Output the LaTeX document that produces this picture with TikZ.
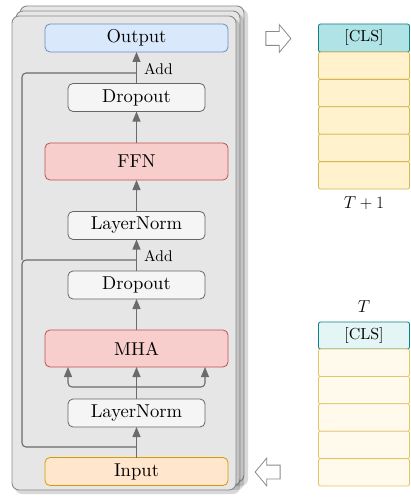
\documentclass[tikz,border=0pt]{standalone}
\usepackage{fontspec}
\setmainfont{lmroman10-regular.otf}[BoldFont=lmroman10-bold.otf, ItalicFont=lmroman10-italic.otf]
\usetikzlibrary{arrows.meta,positioning,shapes.arrows}
\definecolor{layerfill}{HTML}{E6E6E6}
\definecolor{layerdraw}{HTML}{8A8A8A}
\definecolor{conncol}{HTML}{6B6B6B}
\definecolor{outfill}{HTML}{DAE8FC}\definecolor{outdraw}{HTML}{6C8EBF}
\definecolor{infill}{HTML}{FFE6CC}\definecolor{indraw}{HTML}{D79B00}
\definecolor{redfill}{HTML}{F8CECC}\definecolor{reddraw}{HTML}{B85450}
\definecolor{grayfill}{HTML}{F5F5F5}\definecolor{graydraw}{HTML}{666666}
\definecolor{clsfill}{HTML}{B0E3E6}\definecolor{clsdraw}{HTML}{0E8088}
\definecolor{clsfillL}{HTML}{E4F5F6}
\definecolor{tokfill}{HTML}{FFF2CC}\definecolor{tokdraw}{HTML}{D6B656}
\definecolor{tokfillL}{HTML}{FFFAEC}\definecolor{tokdrawL}{HTML}{E3C46A}
\tikzset{
  blk/.style={rounded corners=5pt, line width=0.8pt, inner sep=0pt, outer sep=0pt,
    font=\fontsize{18.6}{22}\selectfont},
  wideblk/.style={blk, minimum width=183pt, minimum height=28pt},
  tallblk/.style={blk, minimum width=183pt, minimum height=37pt},
  narrowblk/.style={blk, minimum width=137pt, minimum height=28pt, fill=grayfill, draw=graydraw},
  conn/.style={draw=conncol, line width=1.1pt, -{Triangle[width=8pt,length=10pt]}},
  plainconn/.style={draw=conncol, line width=1.1pt},
  addlbl/.style={font=\fontsize{15.5}{18}\selectfont, inner sep=0pt, anchor=west},
  cell/.style={rounded corners=2pt, line width=0.8pt, inner sep=0pt, outer sep=0pt,
    minimum width=91pt, minimum height=27.4pt, font=\fontsize{16}{19}\selectfont},
  layer/.style={rounded corners=7pt, fill=layerfill, draw=layerdraw, line width=0.9pt},
  hollow/.style={single arrow, draw=layerdraw, fill=white, line width=0.8pt,
    minimum height=25pt, inner sep=6.5pt, single arrow head extend=7pt,
    single arrow tip angle=100, single arrow head indent=0pt},
}
\begin{document}
\begin{tikzpicture}[x=1pt,y=-1pt]
\useasboundingbox (0,0) rectangle (411,500);
% stacked layers with shadows
\fill[black, opacity=0.15, rounded corners=7pt] (23,9) rectangle (248,486);
\draw[layer] (20,6) rectangle (244,482);
\fill[black, opacity=0.15, rounded corners=7pt] (19,14) rectangle (244,490);
\draw[layer] (16,11) rectangle (240,486);
\fill[black, opacity=0.15, rounded corners=7pt] (15,19) rectangle (240,494);
\draw[layer] (12,16) rectangle (236,490);

% blocks
\node[wideblk, fill=outfill, draw=outdraw] (out) at (136.5,38) {Output};
\node[narrowblk] (drop1) at (136.5,97.5) {Dropout};
\node[tallblk, fill=redfill, draw=reddraw] (ffn) at (136.5,161.5) {FFN};
\node[narrowblk] (ln2) at (136.5,225.5) {LayerNorm};
\node[narrowblk] (drop2) at (136.5,285) {Dropout};
\node[tallblk, fill=redfill, draw=reddraw] (mha) at (136.5,348.5) {MHA};
\node[narrowblk] (ln1) at (136.5,413) {LayerNorm};
\node[wideblk, fill=infill, draw=indraw] (inp) at (136.5,471.5) {Input};

% junction coordinates
\coordinate (j1) at (136.5,447);
\coordinate (j2) at (136.5,260);
\coordinate (j3) at (136.5,73);
\coordinate (l1) at (22,447);
\coordinate (l2) at (22,260);
\coordinate (l3) at (22,73);
\coordinate (s) at (136.5,387);

% main connectors
\draw[conn] (inp.north) -- (ln1.south);
\draw[conn] (ln1.north) -- (mha.south);
\draw[conn, rounded corners=4pt] (s) -| ([xshift=-68.5pt]mha.south);
\draw[conn, rounded corners=4pt] (s) -| ([xshift=68.5pt]mha.south);
\draw[conn] (mha.north) -- (drop2.south);
\draw[conn] (drop2.north) -- (ln2.south);
\draw[conn] (ln2.north) -- (ffn.south);
\draw[conn] (ffn.north) -- (drop1.south);
\draw[conn] (drop1.north) -- (out.south);

% residual connections
\draw[plainconn, rounded corners=4pt] (j1) -- (l1) -- (l2) -- (j2);
\draw[plainconn, rounded corners=4pt] (l2) -- (l3) -- (j3);

\node[addlbl] (add2) at (144,256) {Add};
\node[addlbl] (add1) at (144,69) {Add};

% hollow arrows
\node[hollow] (harr1) at (275.5,38.5) {};
\node[hollow, shape border rotate=180] (harr2) at (270.5,472) {};

% output tokens (T+1)
\node[cell, fill=clsfill, draw=clsdraw, minimum height=28pt] (oc) at (364,38) {[CLS]};
\node[cell, fill=tokfill, draw=tokdraw, below=0pt of oc] (o1) {};
\node[cell, fill=tokfill, draw=tokdraw, below=0pt of o1] (o2) {};
\node[cell, fill=tokfill, draw=tokdraw, below=0pt of o2] (o3) {};
\node[cell, fill=tokfill, draw=tokdraw, below=0pt of o3] (o4) {};
\node[cell, fill=tokfill, draw=tokdraw, below=0pt of o4] (o5) {};
\node[font=\fontsize{17}{20}\selectfont, inner sep=0pt] (tlab1) at (364,203) {$T+1$};

% input tokens (T)
\node[cell, fill=clsfillL, draw=clsdraw, minimum height=27pt] (ic) at (364,335.5) {[CLS]};
\node[cell, fill=tokfillL, draw=tokdrawL, below=0pt of ic] (i1) {};
\node[cell, fill=tokfillL, draw=tokdrawL, below=0pt of i1] (i2) {};
\node[cell, fill=tokfillL, draw=tokdrawL, below=0pt of i2] (i3) {};
\node[cell, fill=tokfillL, draw=tokdrawL, below=0pt of i3] (i4) {};
\node[cell, fill=tokfillL, draw=tokdrawL, below=0pt of i4] (i5) {};
\node[font=\fontsize{17}{20}\selectfont, inner sep=0pt] (tlab2) at (364,307) {$T$};
\end{tikzpicture}
\end{document}
